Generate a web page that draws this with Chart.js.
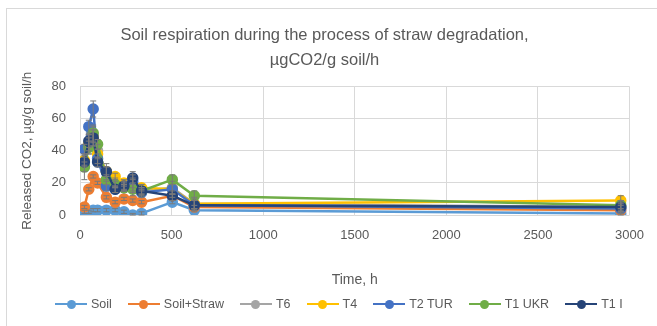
<!DOCTYPE html>
<html>
<head>
<meta charset="utf-8">
<script src="https://cdn.jsdelivr.net/npm/chart.js@4"></script>
<style>
  body { margin: 0; background: #fff; }
  #wrap { position: relative; width: 657px; height: 326px; }
  #frame { position: absolute; left: 6px; top: 8px; right: 0; bottom: 0; border-left: 1px solid #d9d9d9; border-top: 1px solid #d9d9d9; }
  #legend { position: absolute; left: 55px; top: 296px; display: flex; gap: 16px; white-space: nowrap;
            font: 12.5px "Liberation Sans", Arial, sans-serif; color: #595959; line-height: 16px; }
  .item { display: flex; align-items: center; }
  .sw { position: relative; width: 32px; height: 10px; margin-right: 4px; }
  .sw i { position: absolute; left: 0; right: 0; top: 4px; height: 2px; }
  .sw b { position: absolute; left: 11.5px; top: 0.5px; width: 9px; height: 9px; border-radius: 50%; }
</style>
</head>
<body>
<div id="wrap">
  <div id="frame"></div>
  <canvas id="chart" width="657" height="326"></canvas>
  <div id="legend"></div>
</div>
<script>
const hours = [24, 48, 72, 96, 144, 192, 240, 288, 336, 504, 624, 2952];
const names = ['Soil', 'Soil+Straw', 'T6', 'T4', 'T2 TUR', 'T1 UKR', 'T1 I'];
const colors = ['#5b9bd5', '#ed7d31', '#a5a5a5', '#ffc000', '#4472c4', '#70ad47', '#264478'];
const soil      = [2, 2, 3, 3, 3, 3, 2, 0, 1, 8, 3, 1];
const soilStraw = [5, 16, 24, 20, 11, 8, 10, 9, 8, 12, 5, 3];
const t6        = [30, 44, 50, 40, 27, 20, 18, 18, 15, 17, 7, 5];
const t4        = [34, 44, 48, 38, 27, 24, 20, 19, 17, 16, 7, 9];
const t2tur     = [41, 55, 66, 35, 18, 16, 17, 21, 14, 16, 6, 4];
const t1ukr     = [30, 42, 51, 44, 22, 19, 17, 16, 15, 22, 12, 6];
const t1i       = [33, 46, 48, 33, 27, 16, 18, 23, 15, 12, 6, 5];
const series = [soil, soilStraw, t6, t4, t2tur, t1ukr, t1i];
// error bar half-lengths
const errSmall = [1, 1, 1, 1, 1, 1, 1, 1, 1, 1, 1, 1];
const errMid   = [3, 4, 5, 3, 3, 2, 2, 4, 2, 3, 3, 3];
const errT6    = [8, 6, 5, 4, 5, 3, 3, 4, 4, 4, 4, 4];
const errs = [errSmall, errSmall, errT6, errMid, errMid, errMid, errMid];

const font = '"Liberation Sans", Arial, sans-serif';

// simple error bars drawn through the chart scales
const errorBars = {
  id: 'errorBars',
  afterDatasetsDraw(chart) {
    const ctx = chart.ctx, ys = chart.scales.y, xs = chart.scales.x;
    ctx.save();
    ctx.strokeStyle = '#7a7a7a';
    ctx.lineWidth = 1;
    chart.data.datasets.forEach((ds, i) => {
      ds.data.forEach(p => {
        const e = errs[i][hours.indexOf(p.x)];
        const x = xs.getPixelForValue(p.x);
        const y1 = ys.getPixelForValue(p.y + e), y0 = ys.getPixelForValue(Math.max(0, p.y - e));
        ctx.beginPath();
        ctx.moveTo(x, y0); ctx.lineTo(x, y1);
        ctx.moveTo(x - 3, y1); ctx.lineTo(x + 3, y1);
        ctx.moveTo(x - 3, y0); ctx.lineTo(x + 3, y0);
        ctx.stroke();
      });
    });
    ctx.restore();
  }
};

new Chart(document.getElementById('chart'), {
  type: 'line',
  data: {
    datasets: names.map((n, i) => ({
      label: n,
      data: hours.map((h, j) => ({ x: h, y: series[i][j] })),
      borderColor: colors[i],
      backgroundColor: colors[i],
      borderWidth: 2.5,
      pointRadius: 4.5,
      pointHoverRadius: 4.5,
      order: names.length - i
    }))
  },
  options: {
    responsive: false,
    animation: false,
    layout: { padding: { left: 19, right: 27, top: 23, bottom: 33 } },
    plugins: {
      legend: { display: false },
      tooltip: { enabled: false },
      title: {
        display: true,
        text: ['Soil respiration during the process of straw degradation,', 'µgCO2/g soil/h'],
        color: '#595959',
        font: { family: font, size: 16.5, weight: 'normal', lineHeight: 1.5 },
        padding: { top: 0, bottom: 14 }
      }
    },
    scales: {
      x: {
        type: 'linear', min: 0, max: 3000,
        ticks: { stepSize: 500, color: '#595959', font: { family: font, size: 13 }, padding: 13,
                 callback: v => String(v) },
        grid: { color: '#d9d9d9', drawTicks: false },
        border: { display: false },
        title: { display: true, text: 'Time, h', color: '#595959', font: { family: font, size: 14 }, padding: { top: 33 } },
        afterFit(s) { s.height = 78; }
      },
      y: {
        min: 0, max: 80,
        ticks: { stepSize: 20, color: '#595959', font: { family: font, size: 13 }, padding: 14 },
        grid: { color: '#d9d9d9', drawTicks: false },
        border: { display: false },
        title: { display: true, text: 'Released CO2, µg/g soil/h', color: '#595959', font: { family: font, size: 13.5 }, padding: 0 },
        afterFit(s) { s.width = 61; }
      }
    }
  },
  plugins: [errorBars]
});

const leg = document.getElementById('legend');
names.forEach((n, i) => {
  const it = document.createElement('div');
  it.className = 'item';
  it.innerHTML = '<span class="sw"><i style="background:' + colors[i] + '"></i><b style="background:' + colors[i] + '"></b></span>' + n;
  leg.appendChild(it);
});
</script>
</body>
</html>
